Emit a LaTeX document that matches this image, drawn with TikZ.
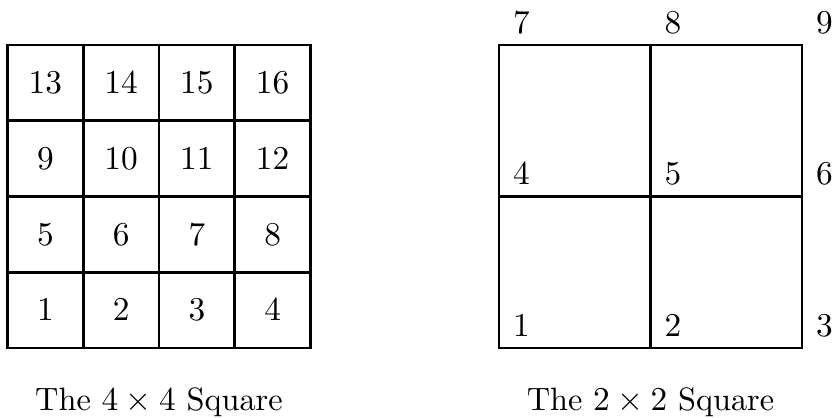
\documentclass[tikz,border=0pt]{standalone}
\usetikzlibrary{calc}
\begin{document}
\begin{tikzpicture}[x=0.3pt,y=-0.3pt, line width=0.8pt,
  cell/.style={draw, minimum size=22.725pt, inner sep=0pt, outer sep=0pt, font=\fontsize{10}{12}\selectfont},
  lbl/.style={inner sep=0pt, font=\fontsize{10}{12}\selectfont},
  captext/.style={anchor=base, inner sep=0pt, font=\fontsize{9.7}{12}\selectfont}]
\useasboundingbox (0,0) rectangle (832,418);
% left 4x4 grid
\foreach \r in {0,...,3} {
  \foreach \c in {0,...,3} {
    \pgfmathtruncatemacro\n{(3-\r)*4+\c+1}
    \node[cell] (c\n) at ({7.5+75.75*(\c+0.5)}, {45+75.75*(\r+0.5)}) {$\n$};
  }
}
% right 2x2 grid vertices
\coordinate (v7) at (499,45);   \coordinate (v8) at (650.5,45);   \coordinate (v9) at (802,45);
\coordinate (v4) at (499,196.5);\coordinate (v5) at (650.5,196.5);\coordinate (v6) at (802,196.5);
\coordinate (v1) at (499,348);  \coordinate (v2) at (650.5,348);  \coordinate (v3) at (802,348);
\draw (v1) rectangle (v9);
\draw (v2) -- (v8);
\draw (v4) -- (v6);
\foreach \i in {1,...,9} {
  \node[lbl] (l\i) at ($(v\i)+(22.5,-22.5)$) {$\i$};
}
% captions
\node[captext] (capL) at (159,411) {The $4\times4$ Square};
\node[captext] (capR) at (650.5,411) {The $2\times2$ Square};
\end{tikzpicture}
\end{document}
